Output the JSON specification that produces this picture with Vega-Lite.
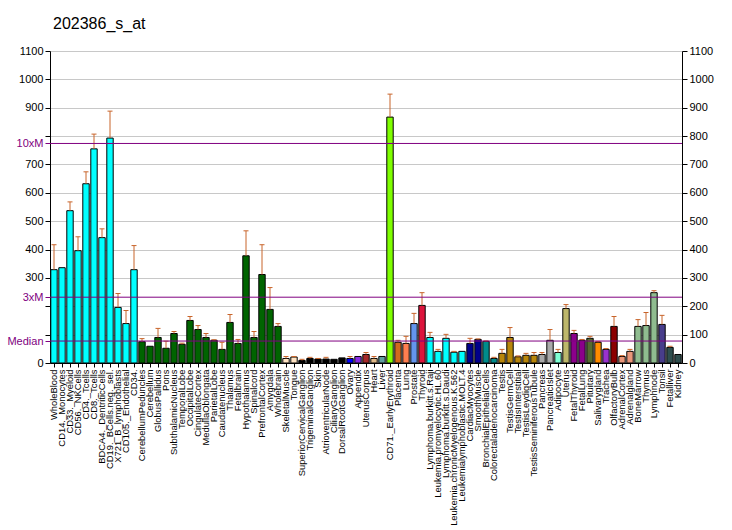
{
  "$schema": "https://vega.github.io/schema/vega-lite/v6.json",
  "width": 632,
  "height": 312,
  "autosize": "none",
  "padding": {"left": 50, "top": 51, "right": 50, "bottom": 167},
  "background": "white",
  "config": {
    "font": "Liberation Sans",
    "view": {"stroke": null},
    "axis": {"labelFont": "Liberation Sans", "labelColor": "black", "domainColor": "black", "tickColor": "black"}
  },
  "title": {
    "text": "202386_s_at",
    "anchor": "start",
    "frame": "group",
    "fontSize": 16,
    "fontWeight": "normal",
    "font": "Liberation Sans",
    "color": "black",
    "dx": 3,
    "offset": 13
  },
  "datasets": {
    "lines": [{"level": 77.4}, {"level": 232}, {"level": 774}]
  },
  "data": {
    "values": [
      {"t": "WholeBlood", "v": 329, "hi": 417, "g": "immune"},
      {"t": "CD14._Monocytes", "v": 336, "hi": null, "g": "immune"},
      {"t": "CD33._Myeloid", "v": 537, "hi": 568, "g": "immune"},
      {"t": "CD56._NKCells", "v": 396, "hi": 445, "g": "immune"},
      {"t": "CD4._Tcells", "v": 632, "hi": 674, "g": "immune"},
      {"t": "CD8._Tcells", "v": 755, "hi": 807, "g": "immune"},
      {"t": "BDCA4._DentriticCells", "v": 442, "hi": 473, "g": "immune"},
      {"t": "CD19._BCells.neg._sel.", "v": 793, "hi": 888, "g": "immune"},
      {"t": "X721_B_lymphoblasts", "v": 196, "hi": 245, "g": "immune"},
      {"t": "CD105._Endothelial", "v": 139, "hi": 185, "g": "immune"},
      {"t": "CD34.", "v": 329, "hi": 414, "g": "immune"},
      {"t": "CerebellumPeduncles", "v": 75, "hi": 86, "g": "brain"},
      {"t": "Cerebellum", "v": 59, "hi": null, "g": "brain"},
      {"t": "GlobusPallidus", "v": 90, "hi": 122, "g": "brain"},
      {"t": "Pons", "v": 52, "hi": 77, "g": "brain"},
      {"t": "SubthalamicNucleus", "v": 104, "hi": 111, "g": "brain"},
      {"t": "TemporalLobe", "v": 66, "hi": 70, "g": "brain"},
      {"t": "OccipitalLobe", "v": 150, "hi": 164, "g": "brain"},
      {"t": "CingulateCortex", "v": 118, "hi": 132, "g": "brain"},
      {"t": "MedullaOblongata", "v": 90, "hi": 104, "g": "brain"},
      {"t": "ParietalLobe", "v": 80, "hi": 82, "g": "brain"},
      {"t": "Caudatenucleus", "v": 48, "hi": 73, "g": "brain"},
      {"t": "Thalamus", "v": 143, "hi": 171, "g": "brain"},
      {"t": "Fetalbrain", "v": 69, "hi": 83, "g": "brain"},
      {"t": "Hypothalamus", "v": 378, "hi": 466, "g": "brain"},
      {"t": "Spinalcord", "v": 90, "hi": 111, "g": "brain"},
      {"t": "PrefrontalCortex", "v": 312, "hi": 417, "g": "brain"},
      {"t": "Amygdala", "v": 189, "hi": 266, "g": "brain"},
      {"t": "Wholebrain", "v": 129, "hi": 139, "g": "brain"},
      {"t": "SkeletalMuscle", "v": 16, "hi": 23, "g": "muscle"},
      {"t": "Tongue", "v": 21, "hi": 23, "g": "muscle"},
      {"t": "SuperiorCervicalGanglion", "v": 9, "hi": 13, "g": "ganglion"},
      {"t": "TrigeminalGanglion", "v": 16, "hi": 20, "g": "ganglion"},
      {"t": "Skin", "v": 14, "hi": 16, "g": "ganglion"},
      {"t": "AtrioventricularNode", "v": 14, "hi": 20, "g": "ganglion"},
      {"t": "CiliaryGanglion", "v": 13, "hi": null, "g": "ganglion"},
      {"t": "DorsalRootGanglion", "v": 18, "hi": null, "g": "ganglion"},
      {"t": "Ovary", "v": 16, "hi": 23, "g": "ovary"},
      {"t": "Appendix", "v": 23, "hi": null, "g": "appendix"},
      {"t": "UterusCorpus", "v": 30, "hi": 37, "g": "uteruscorpus"},
      {"t": "Heart", "v": 16, "hi": 23, "g": "heart"},
      {"t": "Liver", "v": 23, "hi": null, "g": "liver"},
      {"t": "CD71._EarlyErythroid", "v": 867, "hi": 948, "g": "erythroid"},
      {"t": "Placenta", "v": 73, "hi": 80, "g": "placenta"},
      {"t": "Lung", "v": 69, "hi": 94, "g": "lung"},
      {"t": "Prostate", "v": 139, "hi": 175, "g": "prostate"},
      {"t": "Thyroid", "v": 203, "hi": 248, "g": "thyroid"},
      {"t": "Lymphoma.burkitt.s.Raji", "v": 90, "hi": 108, "g": "cancer"},
      {"t": "Leukemia.promyelocytic.HL.60", "v": 41, "hi": 48, "g": "cancer"},
      {"t": "Lymphoma.burkitt.s.Daudi", "v": 87, "hi": 101, "g": "cancer"},
      {"t": "Leukemia.chronicMyelogenous.K.562", "v": 38, "hi": 41, "g": "cancer"},
      {"t": "Leukemialymphoblastic.MOLT.4", "v": 41, "hi": null, "g": "cancer"},
      {"t": "CardiacMyocytes", "v": 69, "hi": 87, "g": "myocyte"},
      {"t": "SmoothMuscle", "v": 83, "hi": 85, "g": "myocyte"},
      {"t": "BronchialEpithelialCells", "v": 76, "hi": 78, "g": "epithelial"},
      {"t": "Colorectaladenocarcinoma", "v": 16, "hi": 20, "g": "epithelial"},
      {"t": "Testis", "v": 34, "hi": 48, "g": "testis"},
      {"t": "TestisGermCell", "v": 90, "hi": 125, "g": "testis"},
      {"t": "TestisInterstitial", "v": 22, "hi": 25, "g": "testis"},
      {"t": "TestisLeydigCell", "v": 27, "hi": 34, "g": "testis"},
      {"t": "TestisSeminiferousTubule", "v": 27, "hi": 37, "g": "testis"},
      {"t": "Pancreas", "v": 30, "hi": 37, "g": "pancreas"},
      {"t": "PancreaticIslet", "v": 80, "hi": 118, "g": "pancreas"},
      {"t": "Adipocyte", "v": 37, "hi": 48, "g": "adipocyte"},
      {"t": "Uterus", "v": 192, "hi": 206, "g": "uterus"},
      {"t": "FetalThyroid", "v": 104, "hi": 115, "g": "fetal"},
      {"t": "FetalLung", "v": 80, "hi": 83, "g": "fetal"},
      {"t": "Pituitary", "v": 87, "hi": 94, "g": "pituitary"},
      {"t": "Salivarygland", "v": 73, "hi": 76, "g": "salivary"},
      {"t": "Trachea", "v": 48, "hi": 51, "g": "trachea"},
      {"t": "OlfactoryBulb", "v": 129, "hi": 164, "g": "olfactory"},
      {"t": "AdrenalCortex", "v": 23, "hi": 26, "g": "adrenal"},
      {"t": "Adrenalgland", "v": 41, "hi": 48, "g": "adrenal"},
      {"t": "BoneMarrow", "v": 129, "hi": 153, "g": "lymphoid"},
      {"t": "Thymus", "v": 132, "hi": 178, "g": "lymphoid"},
      {"t": "Lymphnode", "v": 248, "hi": 255, "g": "lymphoid"},
      {"t": "Tonsil", "v": 136, "hi": 168, "g": "tonsil"},
      {"t": "Fetalliver", "v": 55, "hi": 59, "g": "liverkidney"},
      {"t": "Kidney", "v": 30, "hi": null, "g": "liverkidney"}
    ]
  },
  "layer": [
    {
      "mark": {"type": "bar", "stroke": "black", "strokeWidth": 1},
      "encoding": {
        "x": {
          "field": "t", "type": "nominal", "sort": null,
          "scale": {"paddingInner": 0.2, "paddingOuter": 0.1},
          "axis": {
            "title": null, "labelAngle": -90, "labelFontSize": 9.4, "tickSize": 4,
            "labelPadding": 2, "labelOverlap": false, "labelLimit": 200
          }
        },
        "y": {
          "field": "v", "type": "quantitative",
          "scale": {"domain": [0, 1100], "nice": false, "zero": true},
          "axis": {
            "orient": "left", "title": null, "grid": true,
            "values": [0, 77.4, 100, 200, 232, 300, 400, 500, 600, 700, 774, 800, 900, 1000, 1100],
            "format": "d",
            "labelExpr": "datum.value == 77.4 ? 'Median' : datum.value == 232 ? '3xM' : datum.value == 774 ? '10xM' : (datum.value == 100 || datum.value == 200 || datum.value == 800) ? '' : datum.label",
            "labelColor": {"condition": {"test": "datum.value == 77.4 || datum.value == 232 || datum.value == 774", "value": "#800080"}, "value": "black"},
            "tickColor": {"condition": {"test": "datum.value == 77.4 || datum.value == 232 || datum.value == 774", "value": "#800080"}, "value": "black"},
            "gridColor": {"condition": {"test": "datum.value == 77.4 || datum.value == 232 || datum.value == 774", "value": "rgba(0,0,0,0)"}, "value": "#C8C8C8"},
            "labelFontSize": 11, "tickSize": 5, "labelPadding": 2, "labelFlush": false
          }
        },
        "color": {
          "field": "g", "type": "nominal", "legend": null,
          "scale": {
            "domain": ["immune", "brain", "muscle", "ganglion", "ovary", "appendix", "uteruscorpus", "heart", "liver", "erythroid", "placenta", "lung", "prostate", "thyroid", "cancer", "myocyte", "epithelial", "testis", "pancreas", "adipocyte", "uterus", "fetal", "pituitary", "salivary", "trachea", "olfactory", "adrenal", "lymphoid", "tonsil", "liverkidney"],
            "range": ["#00FFFF", "#006400", "#FFE4C4", "#000000", "#0000FF", "#8A2BE2", "#A52A2A", "#DEB887", "#5F9EA0", "#7FFF00", "#D2691E", "#FF7F50", "#6495ED", "#DC143C", "#00FFFF", "#00008B", "#008B8B", "#B8860B", "#A9A9A9", "#7FFFD4", "#BDB76B", "#8B008B", "#556B2F", "#FF8C00", "#9932CC", "#8B0000", "#E9967A", "#8FBC8F", "#483D8B", "#2F4F4F"]
          }
        }
      }
    },
    {
      "transform": [{"filter": "datum.hi != null"}],
      "mark": {"type": "rule", "color": "#C8642A", "strokeWidth": 1, "opacity": 1},
      "encoding": {
        "x": {"field": "t", "type": "nominal", "sort": null},
        "y": {
          "field": "v", "type": "quantitative",
          "axis": {
            "orient": "right", "title": null, "grid": false,
            "values": [0, 100, 200, 300, 400, 500, 600, 700, 800, 900, 1000, 1100],
            "format": "d", "labelFontSize": 11, "tickSize": 5, "labelPadding": 2, "labelFlush": false
          }
        },
        "y2": {"field": "hi"}
      }
    },
    {
      "transform": [{"filter": "datum.hi != null"}],
      "mark": {"type": "tick", "orient": "horizontal", "color": "#C8642A", "size": 5, "thickness": 1, "opacity": 1},
      "encoding": {
        "x": {"field": "t", "type": "nominal", "sort": null},
        "y": {"field": "hi", "type": "quantitative", "axis": null}
      }
    },
    {
      "data": {"name": "lines"},
      "mark": {"type": "rule", "color": "#800080", "strokeWidth": 1},
      "encoding": {
        "y": {"field": "level", "type": "quantitative", "axis": null}
      }
    }
  ],
  "resolve": {"axis": {"y": "independent"}}
}
